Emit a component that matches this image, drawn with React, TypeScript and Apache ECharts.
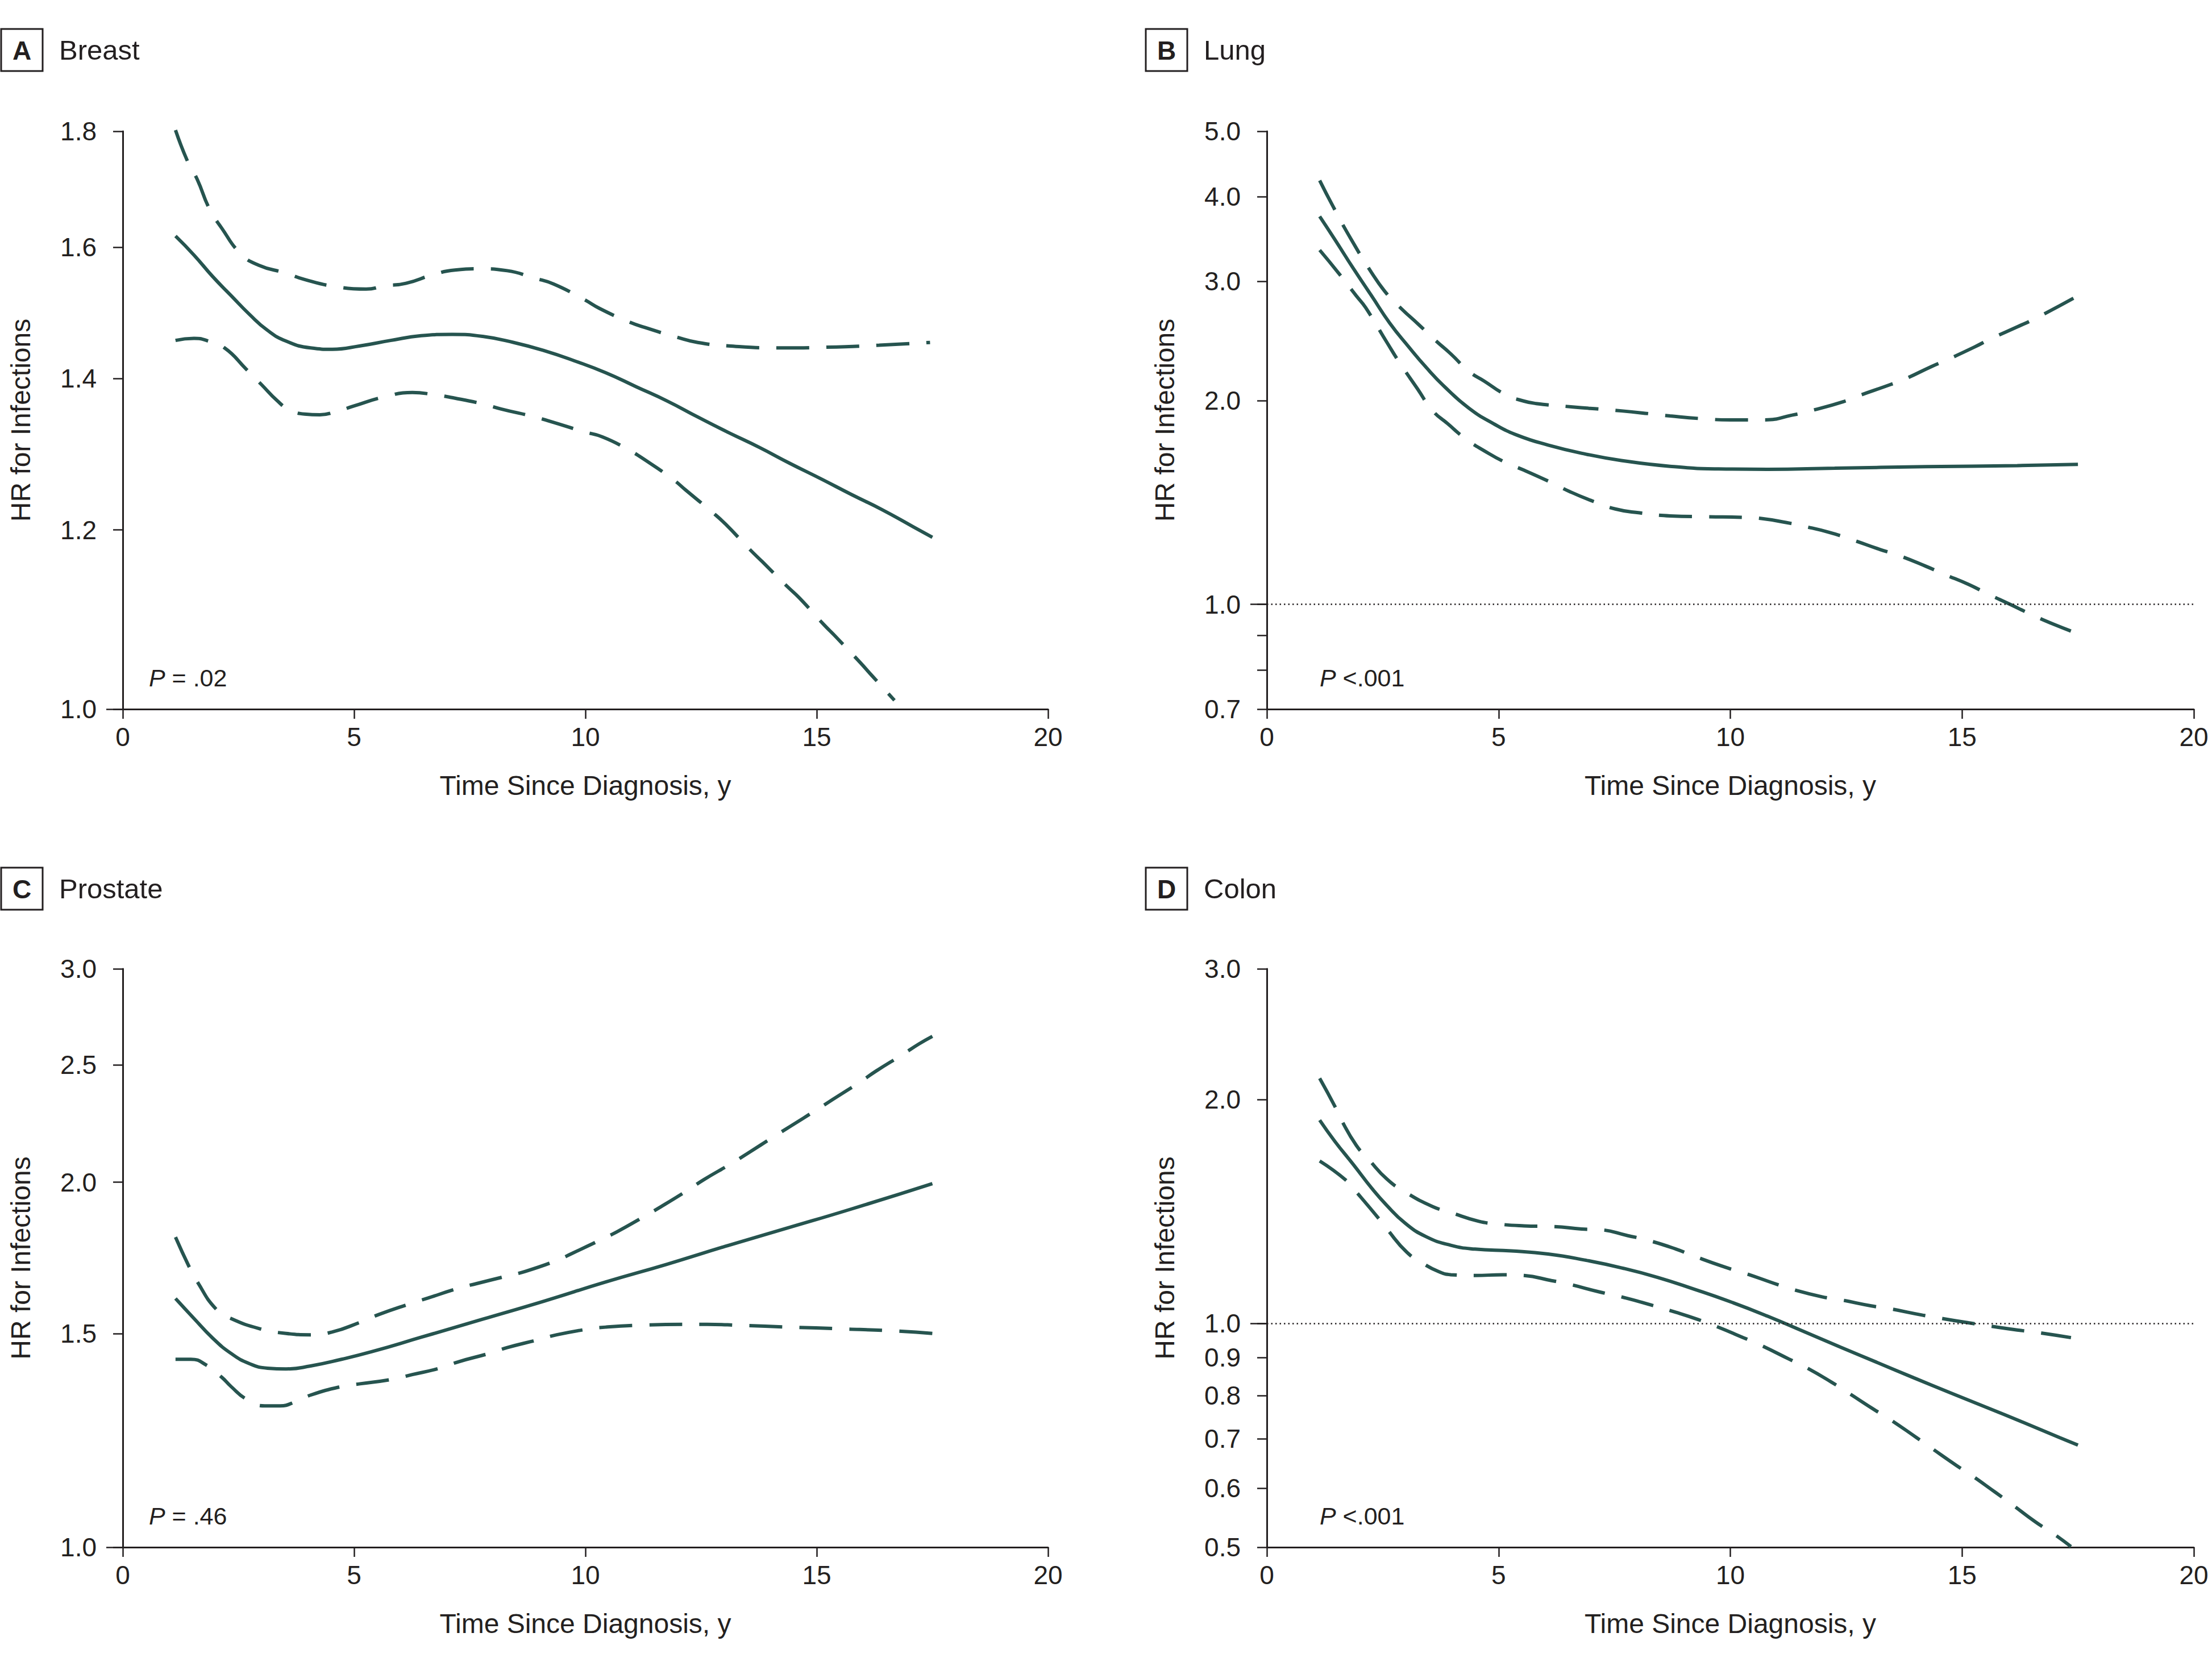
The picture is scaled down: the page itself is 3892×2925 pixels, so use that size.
import React, { useEffect, useRef } from "react";
import * as echarts from "echarts";

const W = 3892;
const H = 2925;

// ---------- Data (time since diagnosis, y ; hazard ratio) ----------
// Panel A – Breast
const breastEstimate: [number, number][] = [
  [1.14, 1.618], [1.54, 1.587], [1.94, 1.553], [2.34, 1.523], [2.74, 1.494], [3.13, 1.47],
  [3.53, 1.454], [4.06, 1.444], [4.53, 1.442], [5.13, 1.447], [5.79, 1.455], [6.45, 1.462],
  [7.12, 1.464], [7.78, 1.461], [8.45, 1.452], [9.11, 1.44], [9.77, 1.425], [10.44, 1.408],
  [11.1, 1.388], [11.77, 1.368], [12.43, 1.346], [13.09, 1.325], [13.76, 1.305], [14.42, 1.284],
  [15.09, 1.264], [15.75, 1.244], [16.41, 1.225], [17.08, 1.204], [17.5, 1.191],
];
const breastUpper: [number, number][] = [
  [1.14, 1.802], [1.41, 1.744], [1.61, 1.714], [1.87, 1.664], [2.14, 1.631], [2.54, 1.59],
  [2.93, 1.571], [3.53, 1.558], [3.93, 1.548], [4.59, 1.537], [5.26, 1.533], [5.66, 1.538],
  [6.12, 1.542], [6.72, 1.556], [7.18, 1.563], [7.78, 1.565], [8.31, 1.562], [8.91, 1.55],
  [9.31, 1.541], [9.97, 1.517], [10.31, 1.503], [10.9, 1.484], [11.3, 1.474], [11.97, 1.46],
  [12.43, 1.452], [13.09, 1.447], [14.16, 1.444], [15.22, 1.445], [16.35, 1.448], [17.45, 1.452],
];
const breastLower: [number, number][] = [
  [1.14, 1.455], [1.54, 1.458], [1.81, 1.455], [2.2, 1.444], [2.67, 1.413], [3.0, 1.391],
  [3.33, 1.369], [3.6, 1.356], [3.93, 1.35], [4.26, 1.349], [4.59, 1.353], [4.99, 1.361],
  [5.66, 1.374], [6.26, 1.38], [6.72, 1.377], [7.18, 1.372], [7.78, 1.364], [8.18, 1.357],
  [8.91, 1.346], [9.24, 1.34], [9.97, 1.326], [10.37, 1.319], [10.9, 1.303], [11.3, 1.288],
  [11.9, 1.263], [12.16, 1.25], [12.76, 1.221], [13.03, 1.207], [13.56, 1.176], [13.82, 1.162],
  [14.36, 1.133], [14.62, 1.12], [15.15, 1.09], [15.42, 1.076], [15.95, 1.048], [16.15, 1.037],
  [16.68, 1.009],
];

// Panel B – Lung
const lungEstimate: [number, number][] = [
  [1.14, 3.742], [1.47, 3.457], [1.87, 3.132], [2.26, 2.856], [2.65, 2.604], [3.05, 2.406],
  [3.44, 2.238], [3.84, 2.095], [4.36, 1.949], [4.89, 1.849], [5.41, 1.777], [6.07, 1.719],
  [6.86, 1.668], [7.65, 1.631], [8.7, 1.599], [9.75, 1.585], [10.8, 1.583], [12.25, 1.589],
  [14.22, 1.597], [16.19, 1.603], [17.5, 1.61],
];
const lungUpper: [number, number][] = [
  [1.14, 4.229], [1.41, 3.893], [1.8, 3.48], [2.26, 3.091], [2.59, 2.875], [2.92, 2.727],
  [3.25, 2.6], [3.64, 2.454], [3.97, 2.344], [4.36, 2.209], [4.69, 2.137], [5.15, 2.041],
  [5.55, 1.996], [5.81, 1.98], [6.6, 1.957], [7.25, 1.941], [7.65, 1.931], [8.3, 1.911],
  [8.7, 1.898], [9.36, 1.881], [10.01, 1.873], [10.74, 1.873], [11.33, 1.903], [11.79, 1.936],
  [12.44, 1.993], [12.77, 2.033], [13.43, 2.109], [13.76, 2.151], [14.35, 2.247], [14.68, 2.298],
  [15.27, 2.4], [15.6, 2.464], [16.19, 2.57], [16.52, 2.632], [17.11, 2.763], [17.5, 2.856],
];
const lungLower: [number, number][] = [
  [1.14, 3.337], [1.54, 3.091], [1.93, 2.856], [2.13, 2.745], [2.59, 2.438], [2.85, 2.283],
  [3.25, 2.082], [3.57, 1.935], [3.9, 1.849], [4.3, 1.754], [4.69, 1.686], [5.15, 1.62],
  [5.55, 1.578], [6.14, 1.513], [6.53, 1.468], [6.99, 1.424], [7.52, 1.383], [8.04, 1.365],
  [8.7, 1.351], [9.49, 1.347], [10.28, 1.344], [10.67, 1.339], [11.2, 1.321], [11.59, 1.304],
  [12.12, 1.278], [12.64, 1.245], [13.23, 1.205], [13.63, 1.181], [14.22, 1.138], [14.61, 1.108],
  [15.14, 1.07], [15.53, 1.038], [16.06, 0.998], [16.45, 0.969], [16.98, 0.934], [17.5, 0.905],
];

// Panel C – Prostate
const prostateEstimate: [number, number][] = [
  [1.14, 1.604], [1.54, 1.544], [1.94, 1.488], [2.34, 1.445], [2.74, 1.417], [3.13, 1.405],
  [3.53, 1.403], [4.06, 1.411], [4.73, 1.429], [5.39, 1.45], [6.45, 1.49], [7.78, 1.542],
  [9.11, 1.596], [10.44, 1.655], [11.77, 1.712], [13.09, 1.774], [14.42, 1.836], [15.75, 1.901],
  [17.5, 1.995],
];
const prostateUpper: [number, number][] = [
  [1.14, 1.802], [1.43, 1.705], [1.61, 1.656], [2.01, 1.573], [2.34, 1.544], [3.0, 1.513],
  [3.53, 1.501], [4.06, 1.497], [4.53, 1.505], [5.13, 1.533], [5.52, 1.555], [6.19, 1.587],
  [6.59, 1.605], [7.25, 1.635], [7.65, 1.65], [8.31, 1.674], [8.71, 1.689], [9.38, 1.724],
  [9.71, 1.747], [10.37, 1.796], [10.7, 1.822], [11.3, 1.877], [11.63, 1.909], [12.23, 1.972],
  [12.56, 2.01], [13.16, 2.073], [13.49, 2.111], [14.09, 2.183], [14.42, 2.223], [15.02, 2.298],
  [15.35, 2.341], [15.94, 2.42], [16.28, 2.47], [16.87, 2.551], [17.21, 2.601], [17.5, 2.639],
];
const prostateLower: [number, number][] = [
  [1.14, 1.429], [1.47, 1.429], [1.81, 1.413], [2.14, 1.381], [2.34, 1.357], [2.67, 1.325],
  [3.07, 1.308], [3.4, 1.308], [3.73, 1.318], [4.06, 1.335], [4.73, 1.357], [5.13, 1.364],
  [5.79, 1.375], [6.26, 1.388], [6.85, 1.405], [7.25, 1.422], [7.92, 1.445], [8.31, 1.461],
  [8.98, 1.483], [9.38, 1.497], [10.04, 1.513], [10.44, 1.519], [11.1, 1.524], [12.23, 1.527],
  [12.63, 1.527], [13.36, 1.524], [14.42, 1.519], [15.55, 1.514], [16.68, 1.508], [17.5, 1.501],
];

// Panel D – Colon
const colonEstimate: [number, number][] = [
  [1.14, 1.877], [1.47, 1.757], [1.87, 1.635], [2.26, 1.521], [2.59, 1.441], [2.98, 1.365],
  [3.44, 1.308], [3.97, 1.274], [4.49, 1.259], [5.28, 1.252], [6.07, 1.24], [6.86, 1.217],
  [7.65, 1.188], [8.44, 1.153], [9.22, 1.112], [10.01, 1.069], [10.8, 1.023], [11.59, 0.975],
  [12.38, 0.929], [13.17, 0.886], [13.96, 0.845], [14.74, 0.807], [15.53, 0.771], [16.32, 0.736],
  [17.11, 0.702], [17.5, 0.686],
];
const colonUpper: [number, number][] = [
  [1.14, 2.137], [1.47, 1.958], [1.6, 1.882], [1.93, 1.736], [2.19, 1.664], [2.59, 1.564],
  [2.98, 1.503], [3.57, 1.437], [3.97, 1.41], [4.56, 1.373], [5.02, 1.36], [5.55, 1.353],
  [6.2, 1.35], [6.79, 1.34], [7.19, 1.337], [7.78, 1.313], [8.24, 1.293], [8.83, 1.259],
  [9.22, 1.232], [9.88, 1.191], [10.34, 1.167], [10.93, 1.133], [11.33, 1.112], [11.98, 1.086],
  [12.38, 1.076], [13.04, 1.056], [13.43, 1.047], [14.15, 1.026], [14.55, 1.016], [15.14, 1.002],
  [15.6, 0.992], [16.19, 0.98], [16.65, 0.972], [17.35, 0.957],
];
const colonLower: [number, number][] = [
  [1.14, 1.654], [1.71, 1.558], [1.93, 1.503], [2.39, 1.39], [2.59, 1.34], [3.02, 1.247],
  [3.38, 1.203], [3.71, 1.174], [3.97, 1.163], [4.49, 1.16], [5.09, 1.163], [5.55, 1.16],
  [6.14, 1.142], [6.53, 1.129], [7.19, 1.102], [7.65, 1.086], [8.31, 1.058], [8.83, 1.035],
  [9.29, 1.013], [9.68, 0.992], [10.28, 0.957], [10.67, 0.934], [11.26, 0.896], [11.66, 0.871],
  [12.18, 0.834], [12.58, 0.804], [13.1, 0.766], [13.43, 0.744], [14.02, 0.702], [14.35, 0.679],
  [14.88, 0.644], [15.2, 0.625], [15.73, 0.592], [16.06, 0.572], [16.58, 0.541], [16.98, 0.521],
  [17.35, 0.501],
];

// ---------- Axis ticks & text ----------
const xTickValues = [0, 5, 10, 15, 20];
const breastYLabels = [1.0, 1.2, 1.4, 1.6, 1.8];
const breastYTicks = [1.0, 1.2, 1.4, 1.6, 1.8];
const lungYLabels = [0.7, 1.0, 2.0, 3.0, 4.0, 5.0];
const lungYTicks = [0.7, 0.8, 0.9, 1.0, 2.0, 3.0, 4.0, 5.0];
const prostateYLabels = [1.0, 1.5, 2.0, 2.5, 3.0];
const prostateYTicks = [1.0, 1.5, 2.0, 2.5, 3.0];
const colonYLabels = [0.5, 0.6, 0.7, 0.8, 0.9, 1.0, 2.0, 3.0];
const colonYTicks = [0.5, 0.6, 0.7, 0.8, 0.9, 1.0, 2.0, 3.0];
const referenceHR = [1.0];

const panelLetters = ["A", "B", "C", "D"];
const panelTitles = ["Breast", "Lung", "Prostate", "Colon"];
const pValueTexts = [" = .02", " <.001", " = .46", " <.001"];
const xAxisTitle = "Time Since Diagnosis, y";
const yAxisTitle = "HR for Infections";

// ---------- Styling ----------
const FONT = "'Liberation Sans', Arial, Helvetica, sans-serif";
const INK = "#231f20";
const CURVE = "#26544f";
const DASH = [58, 30];

const panels = [
  {
    grid: { left: 216, top: 231, width: 1628, height: 1017 },
    yMin: 1.0, yMax: 1.8, yLabels: breastYLabels, yTicks: breastYTicks, refLine: false,
    est: breastEstimate, up: breastUpper, lo: breastLower,
    boxX: 2, headY: 88, titleX: 104, pX: 262, pY: 1193,
  },
  {
    grid: { left: 2229, top: 231, width: 1631, height: 1017 },
    yMin: 0.7, yMax: 5.0, yLabels: lungYLabels, yTicks: lungYTicks, refLine: true,
    est: lungEstimate, up: lungUpper, lo: lungLower,
    boxX: 2016, headY: 88, titleX: 2118, pX: 2322, pY: 1193,
  },
  {
    grid: { left: 216, top: 1705, width: 1628, height: 1018 },
    yMin: 1.0, yMax: 3.0, yLabels: prostateYLabels, yTicks: prostateYTicks, refLine: false,
    est: prostateEstimate, up: prostateUpper, lo: prostateLower,
    boxX: 2, headY: 1564, titleX: 104, pX: 262, pY: 2668,
  },
  {
    grid: { left: 2229, top: 1705, width: 1631, height: 1018 },
    yMin: 0.5, yMax: 3.0, yLabels: colonYLabels, yTicks: colonYTicks, refLine: true,
    est: colonEstimate, up: colonUpper, lo: colonLower,
    boxX: 2016, headY: 1564, titleX: 2118, pX: 2322, pY: 2668,
  },
];

function buildOption() {
  const grid: any[] = [];
  const xAxis: any[] = [];
  const yAxis: any[] = [];
  const series: any[] = [];
  const graphic: any[] = [];

  panels.forEach((p, i) => {
    grid.push({ ...p.grid, containLabel: false });

    xAxis.push({
      type: "value",
      gridIndex: i,
      min: 0,
      max: 20,
      interval: 5,
      axisLine: { show: true, lineStyle: { color: INK, width: 3 } },
      axisTick: { show: true, length: 17, lineStyle: { color: INK, width: 2.5 } },
      axisLabel: {
        customValues: xTickValues,
        fontSize: 46, fontFamily: FONT, color: INK, margin: 26,
      },
      splitLine: { show: false },
      name: xAxisTitle,
      nameLocation: "middle",
      nameGap: 110,
      nameTextStyle: { fontSize: 48, fontFamily: FONT, color: INK },
    });

    // main log axis
    yAxis.push({
      type: "log",
      logBase: 10,
      gridIndex: i,
      min: p.yMin,
      max: p.yMax,
      position: "left",
      axisLine: { show: true, lineStyle: { color: INK, width: 3 } },
      axisTick: { show: true, length: 17, customValues: p.yTicks, lineStyle: { color: INK, width: 2.5 } },
      minorTick: { show: false },
      axisLabel: {
        customValues: p.yLabels,
        formatter: (v: number) => Number(v).toFixed(1),
        fontSize: 46, fontFamily: FONT, color: INK, margin: 46,
      },
      splitLine: { show: false },
      minorSplitLine: { show: false },
      name: yAxisTitle,
      nameLocation: "middle",
      nameGap: 156,
      nameTextStyle: { fontSize: 48, fontFamily: FONT, color: INK },
    });
    // helper axis: the longer tick at HR = 1.0
    yAxis.push({
      type: "log",
      logBase: 10,
      gridIndex: i,
      min: p.yMin,
      max: p.yMax,
      position: "left",
      axisLine: { show: false },
      axisTick: { show: true, length: 29, customValues: referenceHR, lineStyle: { color: INK, width: 2.5 } },
      axisLabel: { show: false },
      splitLine: { show: false },
    });

    const base = {
      type: "line",
      xAxisIndex: i,
      yAxisIndex: i * 2,
      symbol: "none",
      showSymbol: false,
      smooth: 0.5,
      silent: true,
      clip: true,
    };
    series.push({
      ...base,
      name: panelTitles[i] + " HR",
      data: p.est,
      lineStyle: { color: CURVE, width: 6, type: "solid", cap: "butt" },
      markLine: p.refLine
        ? {
            silent: true,
            symbol: ["none", "none"],
            label: { show: false },
            lineStyle: { color: INK, width: 2.5, type: [2.5, 5] },
            data: referenceHR.map((v) => ({ yAxis: v })),
          }
        : undefined,
    });
    series.push({
      ...base,
      name: panelTitles[i] + " upper 95% CI",
      data: p.up,
      lineStyle: { color: CURVE, width: 6, type: DASH, cap: "butt" },
    });
    series.push({
      ...base,
      name: panelTitles[i] + " lower 95% CI",
      data: p.lo,
      lineStyle: { color: CURVE, width: 6, type: DASH, cap: "butt" },
    });

    // panel header: letter box + title
    graphic.push({
      type: "rect",
      shape: { x: p.boxX, y: p.headY - 37, width: 73, height: 74 },
      style: { fill: "#fff", stroke: INK, lineWidth: 3 },
      silent: true,
    });
    graphic.push({
      type: "text",
      x: p.boxX + 36.5,
      y: p.headY + 1,
      style: {
        text: panelLetters[i],
        fontSize: 46, fontWeight: "bold", fontFamily: FONT, fill: INK,
        align: "center", verticalAlign: "middle",
      },
      silent: true,
    });
    graphic.push({
      type: "text",
      x: p.titleX,
      y: p.headY,
      style: {
        text: panelTitles[i],
        fontSize: 49, fontFamily: FONT, fill: INK,
        align: "left", verticalAlign: "middle",
      },
      silent: true,
    });
    // P value
    graphic.push({
      type: "text",
      x: p.pX,
      y: p.pY,
      style: {
        text: "{i|P}" + pValueTexts[i],
        fontSize: 43, fontFamily: FONT, fill: INK,
        align: "left", verticalAlign: "middle",
        rich: { i: { fontStyle: "italic", fontSize: 43, fontFamily: FONT, fill: INK } },
      },
      silent: true,
    });
  });

  return {
    animation: false,
    backgroundColor: "#ffffff",
    textStyle: { fontFamily: FONT },
    grid,
    xAxis,
    yAxis,
    series,
    graphic,
  };
}

export default function App() {
  const ref = useRef<HTMLDivElement>(null);
  useEffect(() => {
    if (!ref.current) return;
    const chart = echarts.init(ref.current, null, { renderer: "svg", width: W, height: H });
    chart.setOption(buildOption() as any);
    return () => chart.dispose();
  }, []);
  return (
    <div
      ref={ref}
      style={{ position: "fixed", left: 0, top: 0, width: W, height: H, background: "#fff" }}
    />
  );
}
